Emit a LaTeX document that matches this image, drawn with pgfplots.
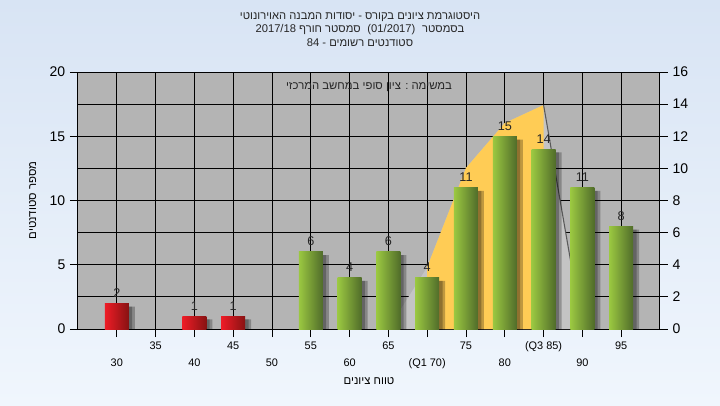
\documentclass[border=0pt]{standalone}
\usepackage{fontspec}
\setmainfont{Liberation Sans}
\newfontfamily\hebfont[Script=Hebrew]{Liberation Sans}
\TeXXeTstate=1
\usepackage{pgfplots}
\usepackage{pgfplotstable}
\pgfplotsset{compat=1.18}

\definecolor{bgtop}{RGB}{216,228,244}
\definecolor{bgbot}{RGB}{240,246,253}
\definecolor{plotbg}{RGB}{180,180,180}
\definecolor{areagray}{RGB}{196,196,196}
\definecolor{areayel}{RGB}{255,204,85}
\definecolor{grL}{RGB}{155,200,65}
\definecolor{grM}{RGB}{200,228,130}
\definecolor{grR}{RGB}{80,108,42}
\definecolor{rdL}{RGB}{238,28,38}
\definecolor{rdM}{RGB}{240,120,120}
\definecolor{rdR}{RGB}{135,18,18}

% bars: grade bin -> number of students
\pgfplotstableread{
x y
30 2
40 1
45 1
}\failbars
\pgfplotstableread{
x y
55 6
60 4
65 6
70 4
75 11
80 15
85 14
90 11
95 8
}\passbars

\pgfplotsset{
  shadowbar/.style={ybar, bar width=18pt, bar shift=#1, draw=none, fill=black, fill opacity=0.25, yshift=-2.5pt},
  onebar/.style 2 args={ybar, bar width=18pt, bar shift=0pt, draw=none,
    left color=#1L, middle color=#1M, right color=#1R,
    x filter/.expression={abs(x-#2)<1 ? x : nan}, nodes near coords},
}

\begin{document}
\begin{tikzpicture}[x=0.75pt,y=0.75pt]
\shade[top color=bgtop, bottom color=bgbot] (-78,-76) rectangle (642,329);

\begin{axis}[
  at={(0,0)}, anchor=south west,
  scale only axis, width=436.5pt, height=192.75pt,
  xmin=25, xmax=100, ymin=0, ymax=20,
  axis background/.style={fill=plotbg},
  xtick={35,45,...,95},
  xticklabels={35,45,55,65,75,(Q3 85),95},
  extra x ticks={30,40,...,90},
  extra x tick labels={30,40,50,60,(Q1 70),80,90},
  extra x tick style={grid=major, xticklabel style={yshift=-12.75pt}},
  ytick={0,5,...,20},
  minor ytick={2.5,7.5,...,17.5},
  grid=both,
  major grid style={black, line width=0.6pt},
  minor grid style={black, line width=0.6pt},
  tick align=outside,
  major tick length=6pt, minor tick length=0pt,
  xtick pos=left, ytick pos=left,
  tick style={black, line width=0.6pt},
  axis line style={black, line width=0.75pt},
  /pgf/number format/assume math mode=true,
  xticklabel style={font=\fontsize{8.2}{9}\selectfont, yshift=0pt},
  yticklabel style={font=\fontsize{10.5}{12}\selectfont},
  xlabel={\hebfont\beginR טווח ציונים\endR},
  xlabel style={at={(axis description cs:0.5,0)}, anchor=center, yshift=-39pt, font=\fontsize{8.5}{10}\selectfont},
  ylabel={\hebfont\beginR מספר סטודנטים\endR},
  ylabel style={at={([xshift=-34pt]axis description cs:0,0.5)}, anchor=center, font=\fontsize{8.5}{10}\selectfont},
  nodes near coords style={font=\fontsize{9.5}{11}\selectfont, text=black!85, yshift=1pt},
]
% normal curve area (left axis units)
\addplot[fill=areagray, draw=none] coordinates {(65,0) (70,4.82) (75,12.53) (80,16.03) (85,17.43) (90,0)} \closedcycle;
\addplot[fill=areayel, draw=none] coordinates {(70,0) (70,4.82) (75,12.53) (80,16.03) (85,17.43) (85,0)} \closedcycle;
\addplot[draw=black!65, line width=0.8pt] coordinates {(85,17.43) (90,0)};

% shadows
\addplot[shadowbar=2.5pt] table[x=x,y=y] {\failbars};
\addplot[shadowbar=4.5pt] table[x=x,y=y] {\failbars};
\addplot[shadowbar=2.5pt] table[x=x,y=y] {\passbars};
\addplot[shadowbar=4.5pt] table[x=x,y=y] {\passbars};

% bars, one plot each so that every bar gets its own shading
\pgfplotsinvokeforeach{30,40,45}{
  \addplot[onebar={rd}{#1}] table[x=x,y=y] {\failbars};
}
\pgfplotsinvokeforeach{55,60,65,70,75,80,85,90,95}{
  \addplot[onebar={gr}{#1}] table[x=x,y=y] {\passbars};
}

\node[font=\hebfont\fontsize{8.5}{10}\selectfont, text=black!85] at (axis description cs:0.5,0.94) {\beginR במשימה : ציון סופי במחשב המרכזי\endR};
\end{axis}

\begin{axis}[
  at={(0,0)}, anchor=south west,
  scale only axis, width=436.5pt, height=192.75pt,
  xmin=25, xmax=100, ymin=0, ymax=16,
  axis x line=none, axis y line*=right,
  ytick={0,2,...,16},
  tick align=outside, major tick length=6pt,
  tick style={black, line width=0.6pt},
  axis line style={black, line width=0.75pt},
  /pgf/number format/assume math mode=true,
  yticklabel style={font=\fontsize{10.5}{12}\selectfont},
]
\addplot[draw=none] coordinates {(25,0) (100,16)};
\end{axis}

\node[font=\hebfont\fontsize{8.4}{10}\selectfont, text=black!85] at (282,312) {\beginR היסטוגרמת ציונים בקורס - יסודות המבנה האוירונוטי\endR};
\node[font=\hebfont\fontsize{8.4}{10}\selectfont, text=black!85] at (282,299) {\beginR בסמסטר\hspace{0.6em}\beginL(01/2017)\endL{}\hspace{0.6em}סמסטר חורף \beginL2017/18\endL\endR};
\node[font=\hebfont\fontsize{8.4}{10}\selectfont, text=black!85] at (282,286) {\beginR סטודנטים רשומים - \beginL84\endL\endR};

\pgfresetboundingbox
\useasboundingbox (-78,-76) rectangle (642,329);
\end{tikzpicture}
\end{document}
